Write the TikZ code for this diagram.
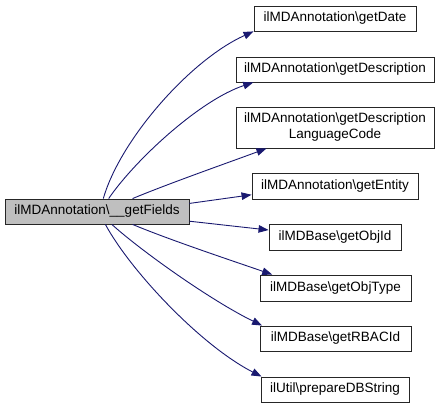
\documentclass[tikz,border=0pt]{standalone}
\usepackage{fontspec}
\setmainfont{Liberation Sans}
\usetikzlibrary{arrows.meta}
\definecolor{edgeblue}{HTML}{191970}
\definecolor{mainfill}{HTML}{BFBFBF}
\begin{document}
\begin{tikzpicture}[x=1pt,y=-1pt,
  box/.style={draw=black!85,line width=0.9pt,fill=white,rectangle,inner sep=0pt,align=center,
    font=\fontsize{13.5}{16}\selectfont},
  edge/.style={draw=edgeblue,line width=0.9pt,-{Triangle[length=10pt,width=7.5pt]},fill=none}]
\useasboundingbox (0,0) rectangle (440,408);
\node[box,fill=mainfill,minimum width=184pt,minimum height=25pt] (main) at (97,211.5) {ilMDAnnotation\textbackslash\_\_getFields};
\node[box,minimum width=162pt,minimum height=25pt] (date) at (335,18.5) {ilMDAnnotation\textbackslash getDate};
\node[box,minimum width=198pt,minimum height=25pt] (desc) at (335,69.5) {ilMDAnnotation\textbackslash getDescription};
\node[box,minimum width=198pt,minimum height=41pt] (lang) at (335,127.5) {ilMDAnnotation\textbackslash getDescription\\LanguageCode};
\node[box,minimum width=166pt,minimum height=26pt] (entity) at (335,186) {ilMDAnnotation\textbackslash getEntity};
\node[box,minimum width=132pt,minimum height=26pt] (objid) at (335,237) {ilMDBase\textbackslash getObjId};
\node[box,minimum width=151pt,minimum height=26pt] (objtype) at (335.5,288) {ilMDBase\textbackslash getObjType};
\node[box,minimum width=151pt,minimum height=25pt] (rbac) at (335.5,338.5) {ilMDBase\textbackslash getRBACId};
\node[box,minimum width=148pt,minimum height=25pt] (prep) at (335,389.5) {ilUtil\textbackslash prepareDBString};

\draw[edge] (main.64.4) .. controls (120,140) and (190,60) .. (date.189.1);
\draw[edge] (main.48.7) .. controls (135,160) and (200,100) .. (desc.189.5);
\draw[edge] (main.20.7) .. controls (170,183) and (230,162) .. (lang.197.5);
\draw[edge] (main.5.9) -- (entity.186.9);
\draw[edge] (main.-6.6) -- (objid.174.8);
\draw[edge] (main.-20.7) .. controls (170,240) and (230,260) .. (objtype.168.6);
\draw[edge] (main.-41.8) .. controls (140,250) and (210,300) .. (rbac.170);
\draw[edge] (main.-57.4) .. controls (130,270) and (200,345) .. (prep.170.2);
\end{tikzpicture}
\end{document}
